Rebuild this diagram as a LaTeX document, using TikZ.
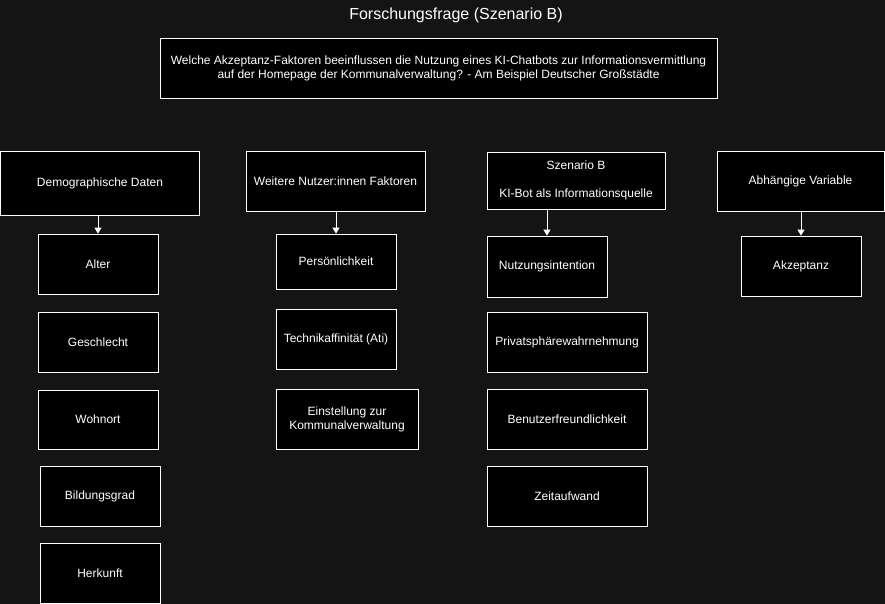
\documentclass[tikz,border=0pt]{standalone}
\usepackage{fontspec}
\setmainfont{Liberation Sans}
\usetikzlibrary{arrows.meta,positioning}
\definecolor{canvas}{HTML}{141414}

\begin{document}
\begin{tikzpicture}[x=1pt,y=-1pt,
  box/.style={draw=white,fill=black,text=white,line width=0.8pt,align=center,inner sep=2pt,font=\fontsize{12}{14}\selectfont},
  arrow/.style={-{Triangle[length=6pt,width=7pt]},white,line width=1pt}
]
  \fill[canvas] (0,0) rectangle (885,604);

  \node[text=white,font=\fontsize{16}{19}\selectfont] (title) at (456,15) {Forschungsfrage (Szenario B)};
  \node[box,minimum width=557pt,minimum height=60pt] (frage) at (438.5,68)
    {Welche Akzeptanz-Faktoren beeinflussen die Nutzung eines KI-Chatbots zur Informationsvermittlung\\auf der Homepage der Kommunalverwaltung? - Am Beispiel Deutscher Großstädte};

  % Spalte 1
  \node[box,minimum width=199pt,minimum height=64pt] (demo) at (100,183) {Demographische Daten};
  \node[box,minimum width=120pt,minimum height=60pt] (alter) at (98,264) {Alter};
  \node[box,minimum width=120pt,minimum height=60pt] (geschlecht) at (98,342) {Geschlecht};
  \node[box,minimum width=120pt,minimum height=59pt] (wohnort) at (98,419.5) {Wohnort};
  \node[box,minimum width=120pt,minimum height=60pt] (bildung) at (100,496) {Bildungsgrad};
  \node[box,minimum width=120pt,minimum height=60pt] (herkunft) at (100,573) {Herkunft};
  \draw[arrow] (demo.south -| alter) -- (alter.north);

  % Spalte 2
  \node[box,minimum width=179pt,minimum height=60pt] (nutzer) at (335.5,181) {Weitere Nutzer:innen Faktoren};
  \node[box,minimum width=120pt,minimum height=55pt] (persoen) at (336,261.5) {Persönlichkeit};
  \node[box,minimum width=120pt,minimum height=60pt] (technik) at (336,339) {Technikaffinität (Ati)};
  \node[box,minimum width=142pt,minimum height=60pt] (einstellung) at (347,419) {Einstellung zur\\Kommunalverwaltung};
  \draw[arrow] (nutzer.south -| persoen) -- (persoen.north);

  % Spalte 3
  \node[box,minimum width=178pt,minimum height=57pt,font=\fontsize{12}{28}\selectfont] (szenario) at (576,180.5) {Szenario B\\KI-Bot als Informationsquelle};
  \node[box,minimum width=120pt,minimum height=61pt] (intention) at (547,266.5) {Nutzungsintention};
  \node[box,minimum width=160pt,minimum height=60pt] (privat) at (567,342) {Privatsphärewahrnehmung};
  \node[box,minimum width=160pt,minimum height=60pt] (benutzer) at (567,419) {Benutzerfreundlichkeit};
  \node[box,minimum width=160pt,minimum height=60pt] (zeit) at (567,496) {Zeitaufwand};
  \draw[arrow] (szenario.south -| intention) -- (intention.north);

  % Spalte 4
  \node[box,minimum width=167pt,minimum height=60pt] (abh) at (800.5,181) {Abhängige Variable};
  \node[box,minimum width=120pt,minimum height=60pt] (akzeptanz) at (801,266) {Akzeptanz};
  \draw[arrow] (abh.south -| akzeptanz) -- (akzeptanz.north);
\end{tikzpicture}
\end{document}
